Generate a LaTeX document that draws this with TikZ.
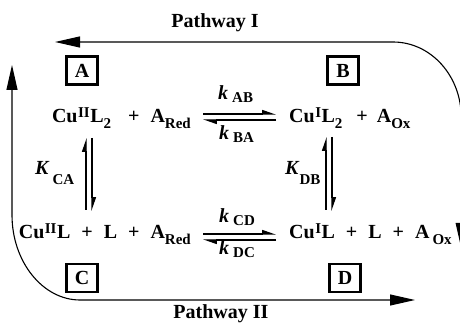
\documentclass[tikz,border=0pt]{standalone}
\usepackage{fontspec}
\setmainfont{Liberation Serif}
\usetikzlibrary{arrows.meta}
% raised / lowered indices set by hand
\newcommand{\oxs}[1]{\hspace{0.5pt}\raisebox{5.5pt}{\fontsize{15}{15}\selectfont #1}\hspace{0.5pt}}
\newcommand{\spc}[1]{\raisebox{-6pt}{\fontsize{15}{15}\selectfont #1}}
\newcommand{\rks}[1]{\raisebox{-3pt}{\fontsize{15}{15}\selectfont #1}}
\newcommand{\eqs}[1]{\raisebox{-10pt}{\fontsize{15}{15}\selectfont #1}}
\begin{document}
\begin{tikzpicture}[x=1pt,y=1pt,
  txt/.style={font=\fontsize{20}{24}\selectfont\bfseries, inner sep=0pt},
  tag/.style={txt, draw, line width=2.7pt, minimum width=31pt, minimum height=28pt},
  harp/.style={line width=1.2pt, -{Triangle[harpoon,length=12pt,width=8pt]}},
  route/.style={line width=1.1pt, {Triangle[length=25pt,width=11pt]}-{Triangle[length=25pt,width=11pt]}}]
\useasboundingbox (0,0) rectangle (460,-328);

% species
\node[txt, anchor=base east] (sA) at (191,-123) {Cu\oxs{II}L\spc{2}\hspace{17pt}+\hspace{11pt}A\spc{Red}};
\node[txt, anchor=base west] (sB) at (289,-123) {Cu\oxs{I}L\spc{2}\hspace{14pt}+\hspace{9pt}A\spc{Ox}};
\node[txt, anchor=base east] (sC) at (191,-239) {Cu\oxs{II}L\hspace{11pt}+\hspace{11pt}L\hspace{11pt}+\hspace{11pt}A\spc{Red}};
\node[txt, anchor=base west] (sD) at (289,-239) {Cu\oxs{I}L\hspace{11pt}+\hspace{11pt}L\hspace{11pt}+\hspace{11pt}A\hspace{3pt}\spc{Ox}};

% state tags
\node[tag] (tA) at (82,-70.5) {A};
\node[tag] (tB) at (343,-70.5) {B};
\node[tag] (tC) at (82,-278) {C};
\node[tag] (tD) at (345,-278) {D};

% rate and equilibrium constants
\node[txt, anchor=base west] (kAB) at (218,-100) {\textit{k}\hspace{4pt}\rks{AB}};
\node[txt, anchor=base west] (kBA) at (219,-140) {\textit{k}\hspace{4pt}\rks{BA}};
\node[txt, anchor=base west] (kCD) at (219,-223) {\textit{k}\hspace{4pt}\rks{CD}};
\node[txt, anchor=base west] (kDC) at (219,-255) {\textit{k}\hspace{4pt}\rks{DC}};
\node[txt, anchor=base west] (KCA) at (35,-175) {\textit{K}\hspace{3pt}\eqs{CA}};
\node[txt, anchor=base west] (KDB) at (285,-175) {\textit{K}\eqs{DB}};

% pathway labels
\node[txt, anchor=base] (pI) at (215,-28) {Pathway I};
\node[txt, anchor=base] (pII) at (221,-318) {Pathway II};

% horizontal equilibria
\draw[harp] ([xshift=12pt,yshift=9pt]sA.base east) -- ([xshift=-13pt,yshift=9pt]sB.base west);
\draw[harp] ([xshift=-13pt,yshift=3pt]sB.base west) -- ([xshift=12pt,yshift=3pt]sA.base east);
\draw[harp] ([xshift=12pt,yshift=5pt]sC.base east) -- ([xshift=-13pt,yshift=5pt]sD.base west);
\draw[harp] ([xshift=-13pt,yshift=-1pt]sD.base west) -- ([xshift=12pt,yshift=-1pt]sC.base east);

% vertical equilibria
\coordinate (vA1) at (86,-138);  \coordinate (vC1) at (86,-210);
\coordinate (vA2) at (92,-138);  \coordinate (vC2) at (92,-211);
\coordinate (vB1) at (326,-137); \coordinate (vD1) at (326,-210);
\coordinate (vB2) at (332,-137); \coordinate (vD2) at (332,-211);
\draw[harp] (vC1) -- (vA1);
\draw[harp] (vA2) -- (vC2);
\draw[harp] (vD1) -- (vB1);
\draw[harp] (vB2) -- (vD2);

% pathway routes
\coordinate (r1a) at (55,-42);
\coordinate (r1b) at (461.2,-248);
\coordinate (r2a) at (12,-65);
\coordinate (r2b) at (415,-300);
\draw[route] (r1a) -- (393,-42) .. controls (431,-42) and (461.2,-76) .. (461.2,-117) -- (r1b);
\draw[route] (r2a) -- (12,-215) .. controls (12,-262) and (43,-300) .. (80,-300) -- (r2b);
\end{tikzpicture}
\end{document}
